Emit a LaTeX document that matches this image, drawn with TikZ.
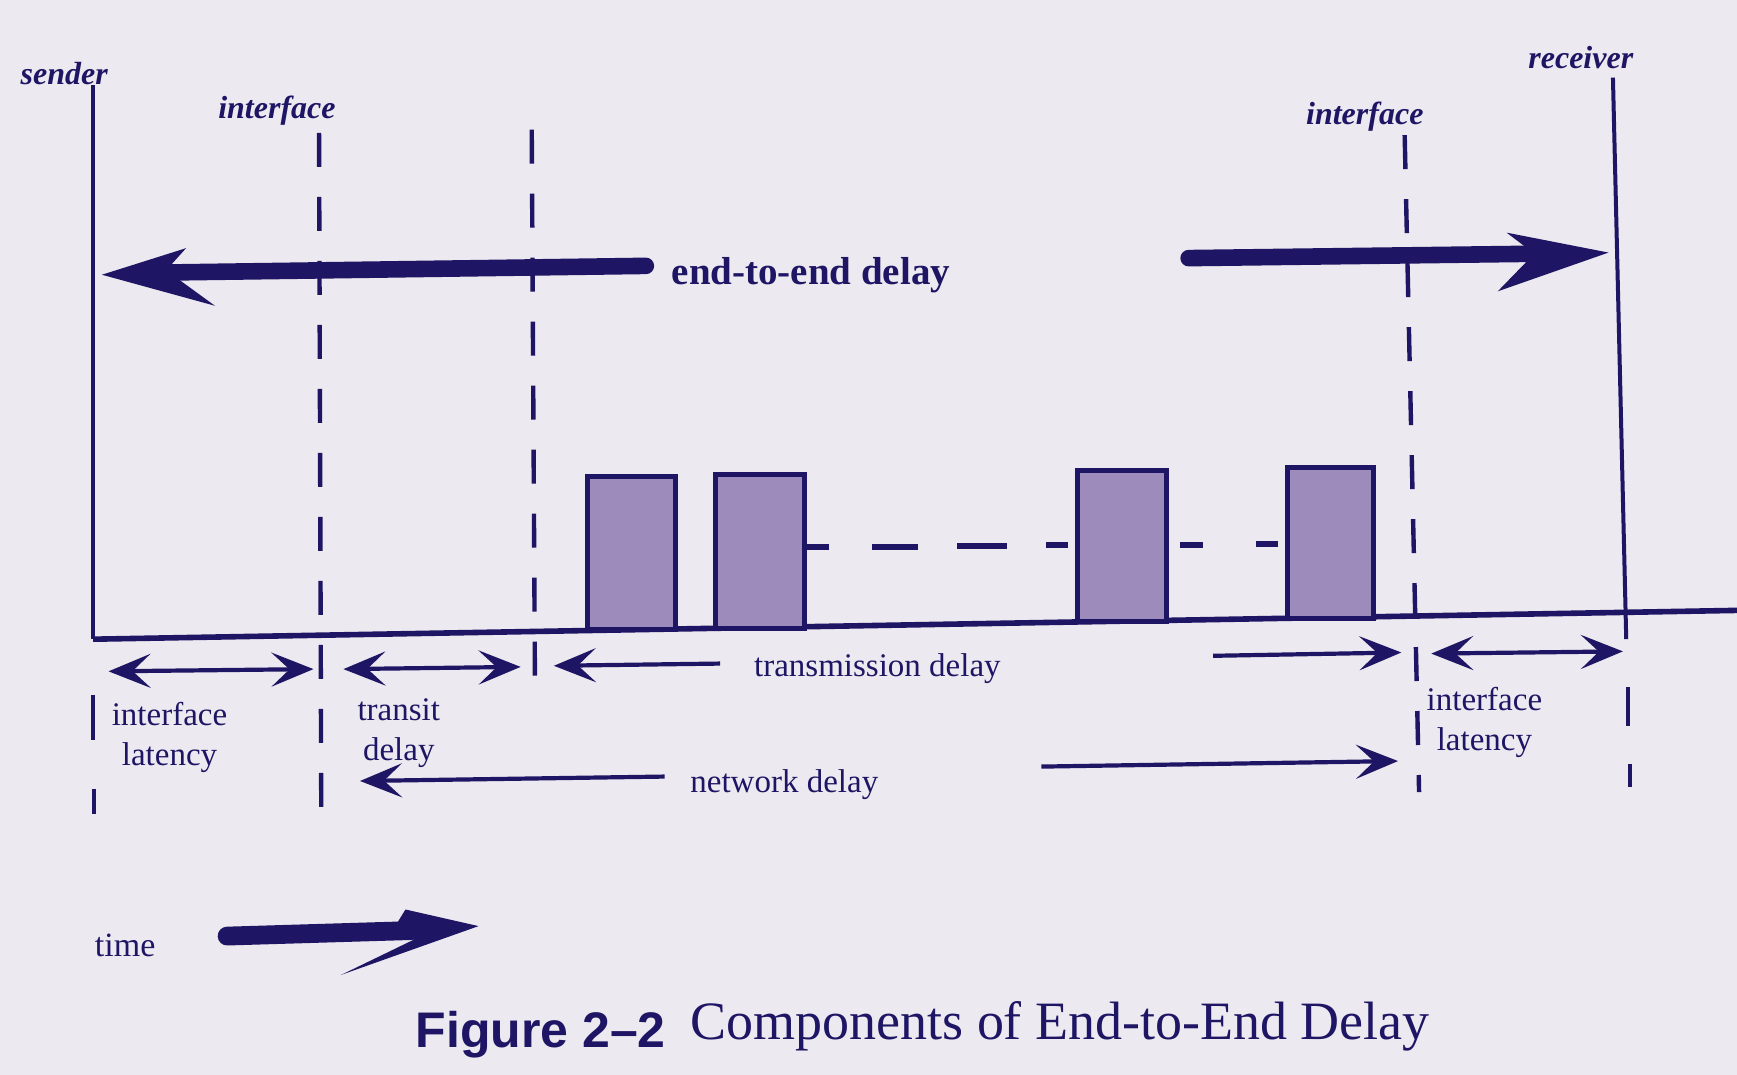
\documentclass[tikz,border=0pt]{standalone}
\usepackage{fontspec}
\setmainfont{Liberation Serif}
\newfontfamily\figsans{Liberation Sans}
\usetikzlibrary{arrows.meta}
\definecolor{ink}{HTML}{1E1664}
\definecolor{paper}{HTML}{ECE9F0}
\definecolor{pkt}{HTML}{9D8CBB}
\begin{document}
\begin{tikzpicture}[x=0.55389pt, y=-0.55389pt,
  solidline/.style={ink, line width=2pt},
  dashline/.style={ink, line width=2.2pt, dash pattern=on 17pt off 15pt},
  axisline/.style={ink, line width=2.8pt},
  packet/.style={ink, line width=2.5pt, fill=pkt},
  pdash/.style={ink, line width=3pt},
  smallarrow/.style={ink, line width=2.1pt, -{Stealth[length=21pt,width=17pt,inset=9pt]}},
  smallboth/.style={ink, line width=2.1pt, {Stealth[length=21pt,width=17pt,inset=9pt]}-{Stealth[length=21pt,width=17pt,inset=9pt]}},
  bigshaft/.style={ink, line width=8.3pt, line cap=round},
  headfill/.style={fill=ink, draw=none},
  toplbl/.style={text=ink, font=\fontsize{16}{19}\selectfont\bfseries\itshape, inner sep=0pt},
  bodylbl/.style={text=ink, font=\fontsize{16.5}{20}\selectfont, inner sep=0pt, align=center}
]
\fill[paper] (0,0) rectangle (1568,970);
\useasboundingbox (0,0) rectangle (1568,970);

% top labels
\node[toplbl] (sndlbl) at (58,66) {sender};
\node[toplbl] (if1lbl) at (250,100) {interface};
\node[toplbl] (if2lbl) at (1232,105) {interface};
\node[toplbl] (rcvlbl) at (1427,52) {receiver};

% sender / receiver lines
\coordinate (s1) at (84,77);
\coordinate (s2) at (84,577);
\draw[solidline] (s1) -- (s2);
\draw[solidline] (84,627) -- (84,668);
\draw[solidline] (85,712) -- (85,735);
\coordinate (r1) at (1456,70);
\coordinate (r2) at (1468,577);
\draw[solidline] (r1) -- (r2);
\draw[solidline] (1470,620) -- (1470,655);
\draw[solidline] (1471,690) -- (1471,710);

% interface dashed lines
\draw[dashline] (288,120) -- (290,730);
\draw[dashline] (480,117) -- (483,635);
\draw[dashline] (1268,122) -- (1281,715);

% time axis
\coordinate (a1) at (84,577);
\coordinate (a2) at (1568,551);
\draw[axisline] (a1) -- (a2);

% packets
\draw[packet] (530,430) rectangle (610,568);
\draw[packet] (646,428) rectangle (726,567);
\draw[packet] (973,425) rectangle (1053,561);
\draw[packet] (1162,422) rectangle (1240,558);
\draw[pdash] (728,494) -- (748,494);
\draw[pdash] (787,494) -- (829,494);
\draw[pdash] (864,493) -- (909,493);
\draw[pdash] (944,492) -- (964,492);
\draw[pdash] (1065,492) -- (1086,492);
\draw[pdash] (1134,491) -- (1154,491);

% end-to-end delay arrows
\node[text=ink, font=\fontsize{19.5}{23}\selectfont\bfseries, inner sep=0pt] (e2e) at (732,248) {end-to-end delay};
\draw[bigshaft] (583,240) -- (150,246);
\fill[headfill] (92,248) -- (168,224) -- (150,244) -- (194,276) -- cycle;
\draw[bigshaft] (1073,233) -- (1390,229);
\fill[headfill] (1452,228) -- (1360,210) -- (1385,229) -- (1352,263) -- cycle;

% below-axis measures
\node[bodylbl] (il1) at (153,666) {interface\\latency};
\node[bodylbl] (td) at (360,662) {transit\\delay};
\node[bodylbl] (txd) at (792,604) {transmission delay};
\node[bodylbl] (il2) at (1340,652) {interface\\latency};
\node[bodylbl] (nd) at (708,708) {network delay};

\draw[smallboth] (98,606) -- (283,604);
\draw[smallboth] (310,604) -- (470,602);
\draw[smallarrow] (650,599) -- (500,601);
\draw[smallarrow] (1095,592) -- (1265,589);
\draw[smallboth] (1292,590) -- (1465,588);
\draw[smallarrow] (600,701) -- (325,705);
\draw[smallarrow] (940,692) -- (1262,687);

% time arrow
\node[text=ink, font=\fontsize{17}{20}\selectfont, inner sep=0pt] (timelbl) at (113,853) {time};
\draw[ink, line width=9.4pt, line cap=round] (205,845) -- (372,840);
\fill[headfill] (358,834) -- (366,821) -- (432,836) -- (308,880) -- (374,848) -- cycle;

% caption
\node[text=ink, font=\fontsize{25}{30}\selectfont\figsans\bfseries, inner sep=0pt] (figlbl) at (488,934) {Figure 2–2};
\node[text=ink, font=\fontsize{27}{32}\selectfont, inner sep=0pt] (cap) at (957,926) {Components of End-to-End Delay};
\end{tikzpicture}
\end{document}
